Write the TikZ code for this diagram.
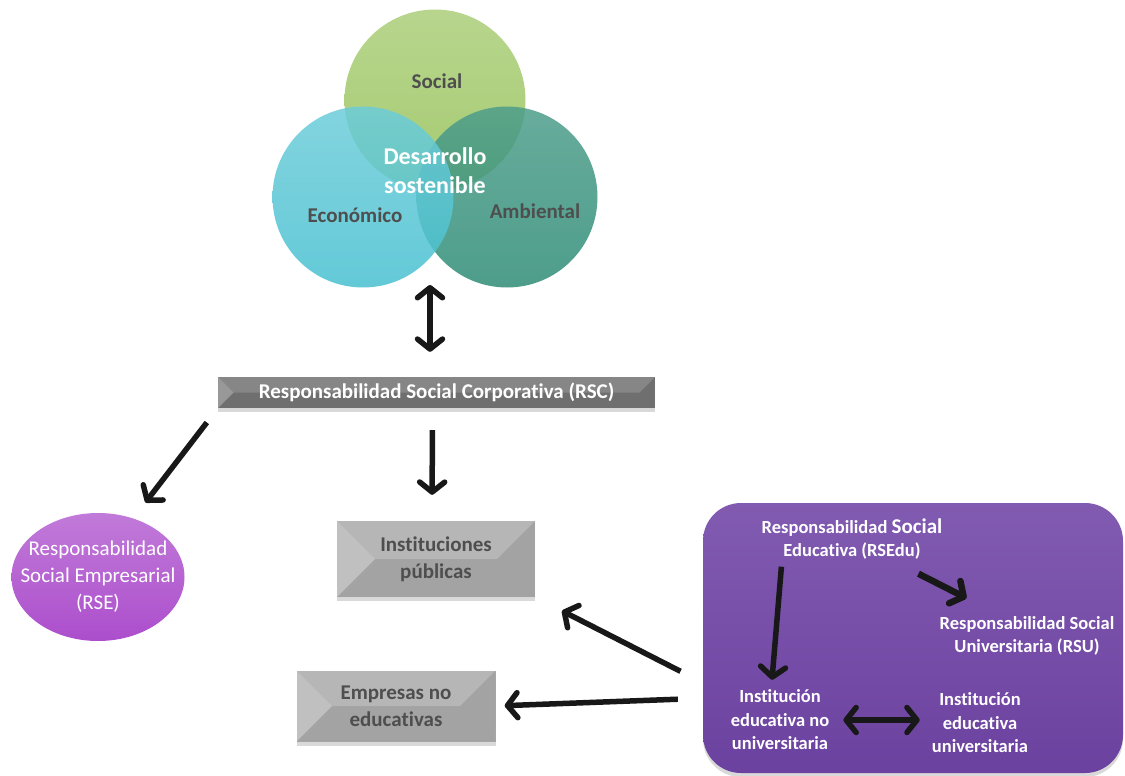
\documentclass[tikz,border=0pt]{standalone}
\usepackage{fontspec}
\setmainfont{Carlito}[Ligatures=NoCommon]
\usepackage{xcolor}
\usepackage{tikz}
\usetikzlibrary{arrows.meta}
\usetikzlibrary{calc}
\usetikzlibrary{positioning}
\usetikzlibrary{shadows}
\usetikzlibrary{shapes.geometric}

\definecolor{verdesoc}{RGB}{150,194,88}
\definecolor{cianeco}{RGB}{72,192,208}
\definecolor{tealamb}{RGB}{46,140,118}
\definecolor{morado}{RGB}{112,68,166}
\definecolor{rosado}{RGB}{172,78,204}
\definecolor{grisbarra}{RGB}{118,118,118}
\definecolor{griscaja}{RGB}{172,172,172}
\definecolor{gristexto}{RGB}{78,78,78}
\definecolor{negro}{RGB}{24,24,24}

\begin{document}
\begin{tikzpicture}[x=1pt, y=-1pt,
    circulo/.style={circle, minimum size=181pt, inner sep=0pt, fill opacity=.85},
    etiqueta/.style={font=\bfseries\fontsize{21}{25}\selectfont, text=gristexto},
    blanco/.style={font=\bfseries\fontsize{18.5}{23.5}\selectfont, text=white, align=center, inner sep=0pt},
    bisel/.style={rectangle, inner sep=0pt, fill=#1,
      drop shadow={opacity=.3, shadow xshift=0pt, shadow yshift=-4pt},
      path picture={
        \coordinate (bi) at ($(path picture bounding box.west)!1!-90:(path picture bounding box.north west)$);
        \coordinate (bd) at ($(path picture bounding box.east)!1!90:(path picture bounding box.north east)$);
        \fill[white, opacity=.25] (path picture bounding box.north west) -- (bi) -- (path picture bounding box.south west) -- cycle;
        \fill[white, opacity=.12] (path picture bounding box.north west) -- (path picture bounding box.north east) -- (bd) -- (bi) -- cycle;
        \fill[black, opacity=.05] (path picture bounding box.north east) -- (bd) -- (path picture bounding box.south east) -- cycle;
        \fill[black, opacity=.05] (path picture bounding box.south west) -- (bi) -- (bd) -- (path picture bounding box.south east) -- cycle;
      }},
    punta/.tip={Straight Barb[length=10pt, width=25pt, round]},
    flecha/.style={line width=5.5pt, draw=negro, -punta},
    dflecha/.style={line width=5.5pt, draw=negro, punta-punta}]

  \useasboundingbox (0,0) rectangle (1125,776);

  % desarrollo sostenible
  \node [circulo, top color=verdesoc!80!white, bottom color=verdesoc] (social) at (435,100) {};
  \node [circulo, top color=tealamb!85!white, bottom color=tealamb] (ambiental) at (507,197) {};
  \node [circulo, top color=cianeco!80!white, bottom color=cianeco] (economico) at (363,197) {};

  \node [etiqueta] (tsocial) at (437,81) {Social};
  \node [etiqueta] (teconomico) at (355,215) {Económico};
  \node [etiqueta] (tambiental) at (535,211) {Ambiental};
  \node [font=\bfseries\fontsize{24}{29}\selectfont, text=white, align=center]
    (desarrollo) at (435,171) {Desarrollo\\sostenible};

  % cajas grises
  \node [bisel=grisbarra, minimum width=437pt, minimum height=31pt,
    font=\bfseries\fontsize{21}{25}\selectfont, text=white]
    (rsc) at (436.5,392.5) {Responsabilidad Social Corporativa (RSC)};
  \node [bisel=griscaja, minimum width=198pt, minimum height=76pt, align=center,
    font=\bfseries\fontsize{21}{27}\selectfont, text=gristexto]
    (inst) at (436,559) {Instituciones\\públicas};
  \node [bisel=griscaja, minimum width=199pt, minimum height=71pt, align=center,
    font=\bfseries\fontsize{21}{27}\selectfont, text=gristexto]
    (emp) at (396,706) {Empresas no\\educativas};

  % RSE
  \node [ellipse, minimum width=173pt, minimum height=128pt, inner sep=0pt,
    top color=rosado!75!white, bottom color=rosado] (rse) at (98,577) {};
  \node [align=center, font=\fontsize{21}{27}\selectfont, text=white]
    (trse) at (rse) {Responsabilidad\\Social Empresarial\\(RSE)};

  % caja morada
  \node [rectangle, rounded corners=38pt, minimum width=420pt, minimum height=270pt,
    top color=morado!88!white, bottom color=morado!96!black,
    drop shadow={opacity=.3, shadow xshift=0pt, shadow yshift=-4pt}]
    (morado) at (913,638) {};

  \node [blanco] (rsedu) at (852,539)
    {Responsabilidad {\fontsize{21}{23.5}\selectfont Social}\\Educativa (RSEdu)};
  \node [blanco] (rsu) at (1027,636) {Responsabilidad Social\\Universitaria (RSU)};
  \node [blanco] (ienu) at (780,720) {Institución\\educativa no\\universitaria};
  \node [blanco] (ieu) at (980,723) {Institución\\educativa\\universitaria};

  % conectores
  \coordinate (cruce) at (430,251);
  \draw [dflecha, shorten <=34pt, shorten >=25pt] (cruce) -- (rsc.north -| cruce);
  \draw [flecha, shorten <=22pt, shorten >=26pt] ([xshift=-4pt]rsc.south) -- ([xshift=-4pt]inst.north);
  \draw [flecha, shorten <=18pt, shorten >=20pt] (rsc.south west) -- (rse.59);
  \draw [flecha, shorten <=25pt, shorten >=30pt] (morado.192) -- (inst.south east);
  \draw [flecha, shorten <=25pt, shorten >=9pt] (morado.196) -- (emp.east);
  \draw [flecha, shorten <=7pt] ([xshift=-70pt]rsedu.south) -- ([xshift=-8pt, yshift=10pt]ienu.north);
  \draw [flecha, line width=6.5pt] ([xshift=-24pt, yshift=-14pt]rsedu.south east) -- ([xshift=27pt, yshift=18pt]rsu.north west);
  \draw [dflecha, shorten <=14pt, shorten >=12pt] (ienu.east) -- (ienu.east -| ieu.west);

\end{tikzpicture}
\end{document}
